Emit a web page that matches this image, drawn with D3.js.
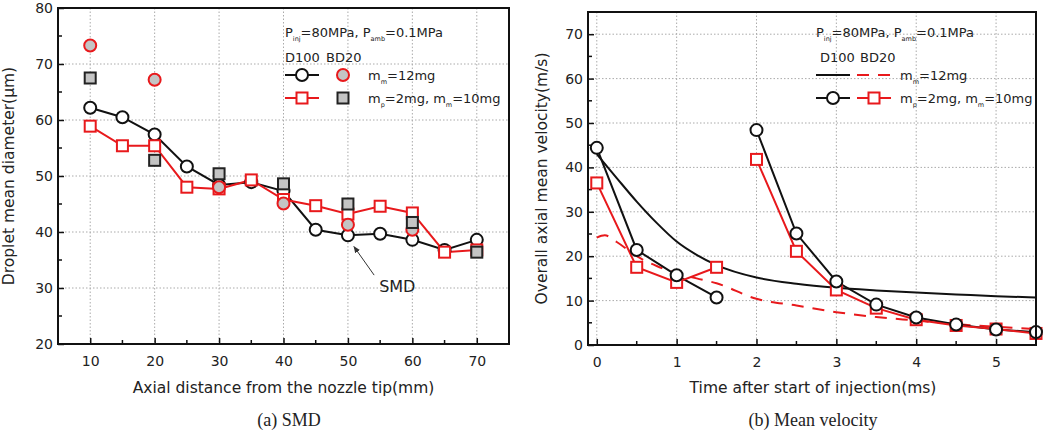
<!DOCTYPE html>
<html><head><meta charset="utf-8">
<script src="https://cdn.jsdelivr.net/npm/d3@7"></script>
<style>
body{margin:0;background:#fff;}
text{font-family:"DejaVu Sans",Verdana,sans-serif;}
</style></head>
<body><svg id="c" width="1043" height="431"></svg>
<script>
// ---- Panel (a) SMD data ----
const smdX = [10,15,20,25,30,35,40,45,50,55,60,65,70];
const smdD100Split = [62.2,60.5,57.4,51.7,48.4,48.9,47.3,40.4,39.4,39.7,38.6,36.8,38.6];
const smdD100Single = [58.9,55.4,55.4,48.0,47.7,49.3,45.8,44.7,43.2,44.6,43.4,36.4,36.8];
const smdBDX = [10,20,30,40,50,60];
const smdBD20Single = [73.3,67.2,48.0,45.1,41.3,40.4];
const smdBDX2 = [10,20,30,40,50,60,70];
const smdBD20Split = [67.5,52.8,50.4,48.6,45.0,41.7,36.4];
const smdXTicks = [10,20,30,40,50,60,70];
const smdYTicks = [20,30,40,50,60,70,80];

// ---- Panel (b) Mean velocity data ----
const velT1 = [0,0.5,1,1.5];
const velT2 = [2,2.5,3,3.5,4,4.5,5,5.5];
const velD100Split1 = [44.4,21.4,15.7,10.7];
const velD100Split2 = [48.4,25.1,14.3,9.1,6.2,4.6,3.5,2.9];
const velBD20Split1 = [36.5,17.5,14.1,17.5];
const velBD20Split2 = [41.8,21.1,12.4,8.3,5.7,4.4,3.6,2.6];
const velCurveT = [0,0.25,0.5,0.75,1,1.25,1.5,2,2.5,3,3.5,4,4.5,5,5.5];
const velD100Single = [43.0,37.6,32.3,27.5,23.3,20.3,18.0,15.2,13.8,12.9,12.3,11.8,11.4,11.0,10.7];
const velDashT = [0,0.1,0.25,0.5,0.75,1,1.25,1.5,2,2.5,3,3.5,4,4.5,5,5.5];
const velBD20Single = [24.2,24.7,23.2,20.0,17.8,16.2,15.0,13.9,10.4,8.9,7.4,6.3,5.5,4.7,4.1,3.6];
const velXTicks = [0,1,2,3,4,5];
const velYTicks = [0,10,20,30,40,50,60,70];

const svg = d3.select("#c");
const RED = "#e8191c", GRAY = "#c4c4c4";
const FONT = "DejaVu Sans, Verdana, sans-serif";

function frame(g, x, y, xTicks, yTicks, xMinor, yMinor, W, H) {
  g.append("g").selectAll("line").data(xTicks.filter(v=>x(v)>x.range()[0]+2 && x(v)<x.range()[1]-2)).join("line")
    .attr("x1",d=>x(d)).attr("x2",d=>x(d)).attr("y1",0).attr("y2",H)
    .attr("stroke","#aaa").attr("stroke-width",1).attr("stroke-dasharray","1.5,2");
  g.append("g").selectAll("line").data(yTicks.filter(v=>y(v)>2 && y(v)<H-2)).join("line")
    .attr("y1",d=>y(d)).attr("y2",d=>y(d)).attr("x1",0).attr("x2",W)
    .attr("stroke","#aaa").attr("stroke-width",1).attr("stroke-dasharray","1.5,2");
  const xa = g.append("g").attr("transform",`translate(0,${H})`)
    .call(d3.axisBottom(x).tickValues(xTicks).tickSize(-6).tickPadding(12).tickFormat(d3.format("d")));
  const ya = g.append("g")
    .call(d3.axisLeft(y).tickValues(yTicks).tickSize(-6).tickPadding(5).tickFormat(d3.format("d")));
  [xa,ya].forEach(a=>{a.select(".domain").remove();
    a.selectAll("text").attr("font-size",14).attr("fill","#222").style("font-family",FONT);
    a.selectAll(".tick line").attr("stroke","#111").attr("stroke-width",1.5);});
  g.append("g").selectAll("line").data(xMinor).join("line")
    .attr("x1",d=>x(d)).attr("x2",d=>x(d)).attr("y1",H).attr("y2",H-4).attr("stroke","#111").attr("stroke-width",1.5);
  g.append("g").selectAll("line").data(yMinor).join("line")
    .attr("y1",d=>y(d)).attr("y2",d=>y(d)).attr("x1",0).attr("x2",4).attr("stroke","#111").attr("stroke-width",1.5);
}

function border(g,W,H){
  g.append("rect").attr("x",0).attr("y",0).attr("width",W).attr("height",H)
    .attr("fill","none").attr("stroke","#111").attr("stroke-width",2);
}
function circles(g, xs, ys, x, y, fill, stroke) {
  g.append("g").selectAll("circle").data(xs.map((v,i)=>[v,ys[i]])).join("circle")
    .attr("cx",d=>x(d[0])).attr("cy",d=>y(d[1])).attr("r",6)
    .attr("fill",fill).attr("stroke",stroke).attr("stroke-width",2);
}
function squares(g, xs, ys, x, y, fill, stroke) {
  g.append("g").selectAll("rect").data(xs.map((v,i)=>[v,ys[i]])).join("rect")
    .attr("x",d=>x(d[0])-5.5).attr("y",d=>y(d[1])-5.5).attr("width",11).attr("height",11)
    .attr("fill",fill).attr("stroke",stroke).attr("stroke-width",2);
}
function pline(g, xs, ys, x, y, color, curve, dash) {
  const l = d3.line().x(d=>x(d[0])).y(d=>y(d[1])).curve(curve||d3.curveLinear);
  g.append("path").attr("d", l(xs.map((v,i)=>[v,ys[i]])))
    .attr("fill","none").attr("stroke",color).attr("stroke-width",2)
    .attr("stroke-dasharray", dash||null);
}
function legendText(g, x, y, segs, size){
  const t = g.append("text").attr("x",x).attr("y",y).attr("font-size",size).attr("fill","#222");
  let shift = 0;
  segs.forEach(s=>{
    if (typeof s !== "string") {
      t.append("tspan").attr("font-size",size*0.5).attr("dy",4).text(s.s);
      shift = 4;
    } else {
      t.append("tspan").attr("dy",-shift).text(s);
      shift = 0;
    }
  });
}

// ================= Panel (a) =================
{
  const L=58, T=8, W=451, H=336;
  const g = svg.append("g").attr("transform",`translate(${L},${T})`);
  const x = d3.scaleLinear().domain([5,75]).range([0,W]);
  const y = d3.scaleLinear().domain([20,80]).range([H,0]);
  frame(g,x,y,smdXTicks,smdYTicks,[15,25,35,45,55,65],[25,35,45,55,65,75],W,H);
  pline(g,smdX,smdD100Split,x,y,"#111");
  pline(g,smdX,smdD100Single,x,y,RED);
  circles(g,smdX,smdD100Split,x,y,"#fff","#111");
  squares(g,smdX,smdD100Single,x,y,"#fff",RED);
  circles(g,smdBDX,smdBD20Single,x,y,GRAY,RED);
  squares(g,smdBDX2,smdBD20Split,x,y,GRAY,"#222");
  border(g,W,H);
  // legend
  legendText(g,227,29,["P",{s:"inj"},"=80MPa, P",{s:"amb"},"=0.1MPa"],13);
  g.append("text").attr("x",227).attr("y",54).attr("font-size",13).attr("fill","#222").text("D100");
  g.append("text").attr("x",268).attr("y",54).attr("font-size",13).attr("fill","#222").text("BD20");
  const ly1=67, ly2=90;
  g.append("line").attr("x1",227).attr("x2",261).attr("y1",ly1).attr("y2",ly1).attr("stroke","#111").attr("stroke-width",2);
  g.append("circle").attr("cx",244).attr("cy",ly1).attr("r",6).attr("fill","#fff").attr("stroke","#111").attr("stroke-width",2);
  g.append("circle").attr("cx",285).attr("cy",ly1).attr("r",6).attr("fill",GRAY).attr("stroke",RED).attr("stroke-width",2);
  legendText(g,310,ly1+5,["m",{s:"m"},"=12mg"],13);
  g.append("line").attr("x1",227).attr("x2",261).attr("y1",ly2).attr("y2",ly2).attr("stroke",RED).attr("stroke-width",2);
  g.append("rect").attr("x",238.5).attr("y",ly2-5.5).attr("width",11).attr("height",11).attr("fill","#fff").attr("stroke",RED).attr("stroke-width",2);
  g.append("rect").attr("x",279.5).attr("y",ly2-5.5).attr("width",11).attr("height",11).attr("fill",GRAY).attr("stroke","#222").attr("stroke-width",2);
  legendText(g,310,ly2+5,["m",{s:"p"},"=2mg, m",{s:"m"},"=10mg"],13);
  // SMD annotation
  svg.append("defs").append("marker").attr("id","ah").attr("viewBox","0 0 10 10").attr("refX",9).attr("refY",5)
    .attr("markerWidth",7).attr("markerHeight",7).attr("orient","auto")
    .append("path").attr("d","M0,1 L10,5 L0,9 Z").attr("fill","#333");
  g.append("line").attr("x1",x(55)-6).attr("y1",y(32.3)).attr("x2",x(50)+6).attr("y2",y(37.4))
    .attr("stroke","#333").attr("stroke-width",1).attr("marker-end","url(#ah)");
  g.append("text").attr("x",x(55)-1).attr("y",y(29.2)).attr("font-size",16).attr("fill","#222").text("SMD");
  // titles
  svg.append("text").attr("x",L+W/2).attr("y",393).attr("text-anchor","middle").attr("font-size",15.5).attr("fill","#222")
    .text("Axial distance from the nozzle tip(mm)");
  svg.append("text").attr("transform",`translate(14,${T+H/2}) rotate(-90)`).attr("text-anchor","middle").attr("font-size",15.5).attr("fill","#222")
    .text("Droplet mean diameter(\u03bcm)");
  svg.append("text").attr("x",289).attr("y",426).attr("text-anchor","middle").attr("font-size",18)
    .style("font-family","Liberation Serif, serif").attr("fill","#222").text("(a) SMD");
}

// ================= Panel (b) =================
{
  const L=588, T=12, W=448, H=333;
  const g = svg.append("g").attr("transform",`translate(${L},${T})`);
  const x = d3.scaleLinear().domain([-0.11,5.5]).range([0,W]);
  const y = d3.scaleLinear().domain([0,75]).range([H,0]);
  frame(g,x,y,velXTicks,velYTicks,[0.5,1.5,2.5,3.5,4.5],[5,15,25,35,45,55,65],W,H);
  pline(g,velCurveT,velD100Single,x,y,"#111",d3.curveMonotoneX);
  pline(g,velDashT,velBD20Single,x,y,RED,d3.curveMonotoneX,"12,9");
  pline(g,velT1,velD100Split1,x,y,"#111");
  pline(g,velT2,velD100Split2,x,y,"#111");
  pline(g,velT1,velBD20Split1,x,y,RED);
  pline(g,velT2,velBD20Split2,x,y,RED);
  squares(g,velT1,velBD20Split1,x,y,"#fff",RED);
  squares(g,velT2,velBD20Split2,x,y,"#fff",RED);
  circles(g,velT1,velD100Split1,x,y,"#fff","#111");
  circles(g,velT2,velD100Split2,x,y,"#fff","#111");
  border(g,W,H);
  // legend
  const lx=228;
  legendText(g,lx,25,["P",{s:"inj"},"=80MPa, P",{s:"amb"},"=0.1MPa"],13);
  g.append("text").attr("x",lx+4).attr("y",50).attr("font-size",13).attr("fill","#222").text("D100");
  g.append("text").attr("x",lx+44).attr("y",50).attr("font-size",13).attr("fill","#222").text("BD20");
  const ly1=63, ly2=86;
  g.append("line").attr("x1",lx).attr("x2",lx+34).attr("y1",ly1).attr("y2",ly1).attr("stroke","#111").attr("stroke-width",2);
  g.append("line").attr("x1",lx+41).attr("x2",lx+77).attr("y1",ly1).attr("y2",ly1).attr("stroke",RED).attr("stroke-width",2).attr("stroke-dasharray","12,9");
  legendText(g,lx+84,ly1+5,["m",{s:"m"},"=12mg"],13);
  g.append("line").attr("x1",lx).attr("x2",lx+34).attr("y1",ly2).attr("y2",ly2).attr("stroke","#111").attr("stroke-width",2);
  g.append("circle").attr("cx",lx+17).attr("cy",ly2).attr("r",6).attr("fill","#fff").attr("stroke","#111").attr("stroke-width",2);
  g.append("line").attr("x1",lx+41).attr("x2",lx+75).attr("y1",ly2).attr("y2",ly2).attr("stroke",RED).attr("stroke-width",2);
  g.append("rect").attr("x",lx+52.5).attr("y",ly2-5.5).attr("width",11).attr("height",11).attr("fill","#fff").attr("stroke",RED).attr("stroke-width",2);
  legendText(g,lx+84,ly2+5,["m",{s:"p"},"=2mg, m",{s:"m"},"=10mg"],13);
  // titles
  svg.append("text").attr("x",813).attr("y",393).attr("text-anchor","middle").attr("font-size",15.5).attr("fill","#222")
    .text("Time after start of injection(ms)");
  svg.append("text").attr("transform",`translate(547,${T+H/2}) rotate(-90)`).attr("text-anchor","middle").attr("font-size",15.5).attr("fill","#222")
    .text("Overall axial mean velocity(m/s)");
  svg.append("text").attr("x",813).attr("y",426).attr("text-anchor","middle").attr("font-size",18)
    .style("font-family","Liberation Serif, serif").attr("fill","#222").text("(b) Mean velocity");
}
</script></body></html>
